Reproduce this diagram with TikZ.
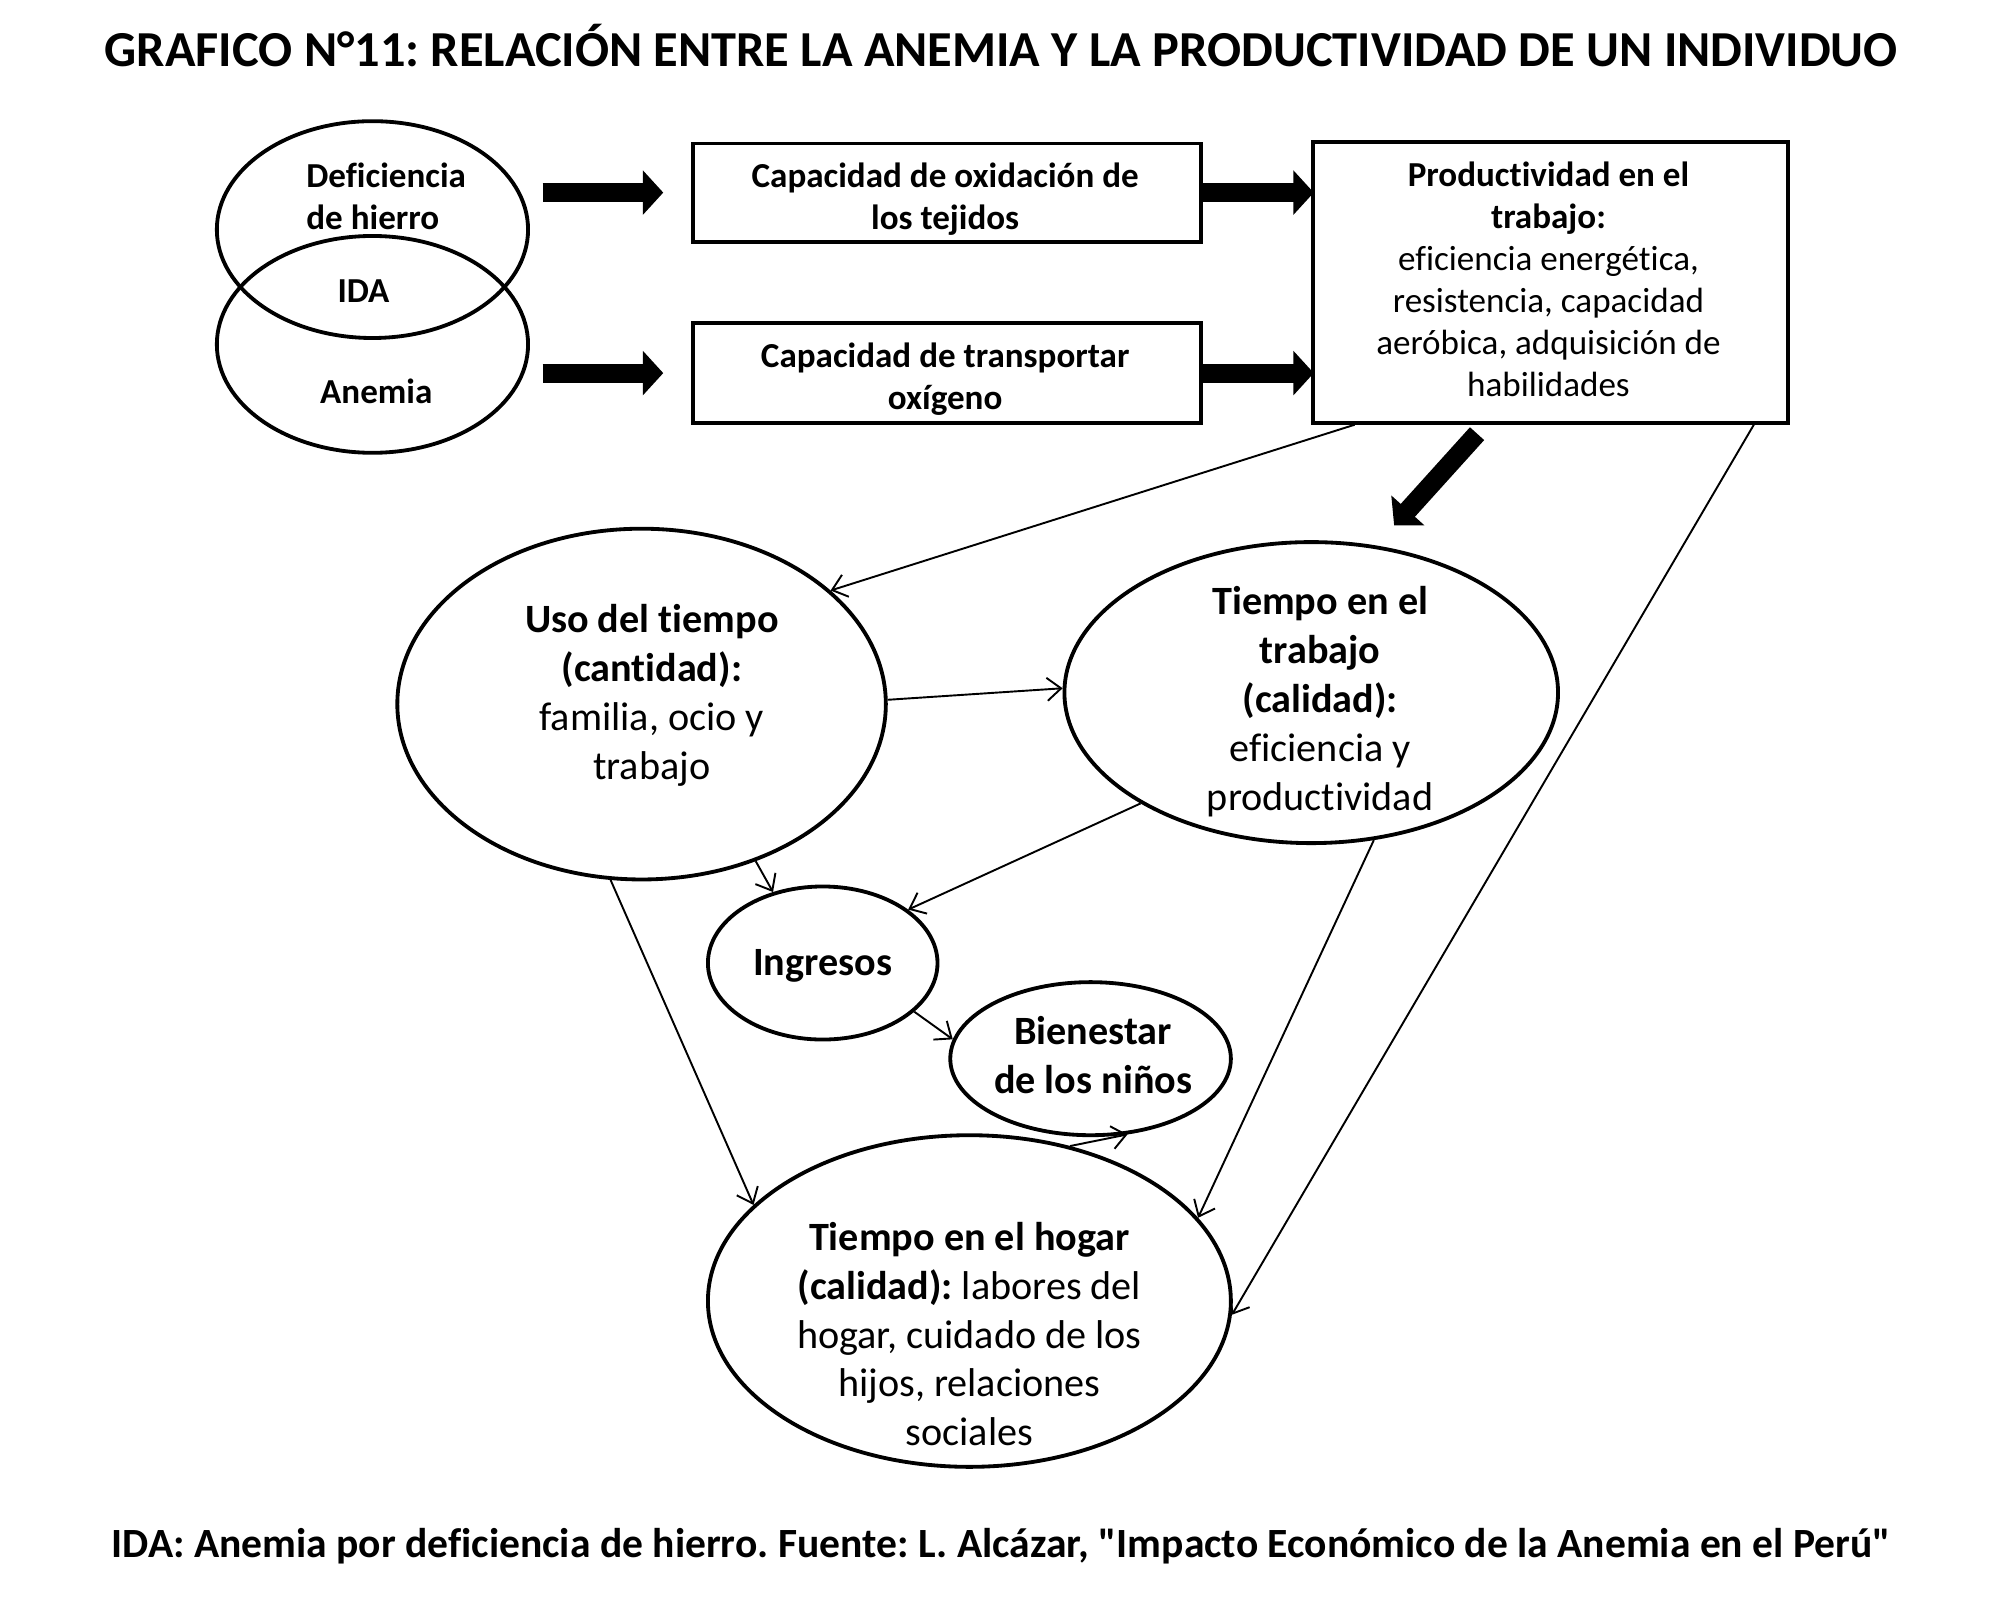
\documentclass[tikz,border=0pt]{standalone}
\usepackage{fontspec}
\setmainfont{Carlito}[Ligatures={TeXOff,NoCommon}]
\usetikzlibrary{arrows.meta,shapes.geometric,calc}
\frenchspacing
\begin{document}
\begin{tikzpicture}[x=1pt,y=-1pt,
  shapeline/.style={draw, line width=3pt},
  oval/.style={shapeline, ellipse, inner sep=0pt},
  boxnode/.style={shapeline, rectangle, inner sep=0pt, anchor=north west},
  bigtxt/.style={align=center, font=\fontsize{31.5}{38.3}\selectfont, inner sep=0pt},
  boxtxt/.style={align=center, font=\fontsize{27.5}{33}\selectfont, inner sep=0pt},
  boldbox/.style={boxtxt, font=\fontsize{27.5}{33}\selectfont\bfseries},
  fatarrow/.style={line width=15pt, -{Triangle[length=16pt,width=34pt]}},
  thinarrow/.style={line width=1.5pt, -{Straight Barb[length=11pt,width=18pt,line width=1.5pt]}}
]
\useasboundingbox[fill=white] (0,0) rectangle (1568,1257);

% title
\node[font=\fontsize{39.5}{44}\selectfont\bfseries, inner sep=0pt] (title) at (785,36)
  {GRAFICO N°11: RELACIÓN ENTRE LA ANEMIA Y LA PRODUCTIVIDAD DE UN INDIVIDUO};

% Venn diagram
\node[oval, minimum width=244pt, minimum height=170pt] (venA) at (292,180) {};
\node[oval, minimum width=244pt, minimum height=170pt] (venB) at (292,270) {};
\node[boldbox, align=left, anchor=west] (venAt) at (240,154) {Deficiencia\\de hierro};
\node[boldbox] (ida) at (285,228) {IDA};
\node[boldbox] (venBt) at (295,307) {Anemia};

% boxes
\node[boxnode, minimum width=398pt, minimum height=77pt] (boxA) at (542,111) {};
\node[boldbox] (boxAt) at (741,156) {Capacidad de oxidación de\\los tejidos};
\node[boxnode, minimum width=398pt, minimum height=78pt] (boxB) at (542,252) {};
\node[boldbox] (boxBt) at (741,297) {Capacidad de transportar\\oxígeno};

\node[boxnode, minimum width=372pt, minimum height=220pt] (big) at (1028,110) {};
\node[boxtxt] (bigt) at (1214,219) {\textbf{Productividad en el}\\\textbf{trabajo:}\\eficiencia energética,\\resistencia, capacidad\\aeróbica, adquisición de\\habilidades};

% ellipses lower part
\node[oval, minimum width=383pt, minimum height=275pt] (uso) at (503,552) {};
\node[bigtxt] (usot) at (511,545) {\textbf{Uso del tiempo}\\\textbf{(cantidad):}\\familia, ocio y\\trabajo};

\node[oval, minimum width=387pt, minimum height=236pt] (trab) at (1028,543) {};
\node[bigtxt] (trabt) at (1035,550) {\textbf{Tiempo en el}\\\textbf{trabajo}\\\textbf{(calidad):}\\eficiencia y\\productividad};

\node[oval, minimum width=180pt, minimum height=120pt] (ingr) at (645,755) {};
\node[bigtxt, font=\fontsize{31.5}{38}\selectfont\bfseries] (ingrt) at (645,757) {Ingresos};

\node[oval, minimum width=220pt, minimum height=120pt] (bien) at (855,830) {};
\node[bigtxt, font=\fontsize{31.5}{38}\selectfont\bfseries] (bient) at (857,827) {Bienestar\\de los niños};

\node[oval, minimum width=410pt, minimum height=260pt] (hogar) at (760,1020) {};
\node[bigtxt] (hogart) at (760,1046) {\textbf{Tiempo en el hogar}\\\textbf{(calidad):} labores del\\hogar, cuidado de los\\hijos, relaciones\\sociales};

% footer
\node[font=\fontsize{32.6}{38}\selectfont\bfseries, inner sep=0pt] (foot) at (785,1212)
  {IDA: Anemia por deficiencia de hierro. Fuente: L. Alcázar, "Impacto Económico de la Anemia en el Perú"};

% fat arrows
\draw[fatarrow, shorten <=10pt, shorten >=22pt] (venA.east |- boxA.west) -- (boxA.west);
\draw[fatarrow, shorten <=10pt, shorten >=22pt] (venB.east |- boxB.west) -- (boxB.west);
\draw[fatarrow, shorten >=-2pt] (boxA.east) -- (boxA.east -| big.west);
\draw[fatarrow, shorten >=-2pt] (boxB.east) -- (boxB.east -| big.west);
\coordinate (dgA) at (1158,340);
\coordinate (dgB) at (1093,412);
\draw[fatarrow] (dgA) -- (dgB);

% thin arrows
\draw[thinarrow] ($(big.south west)+(34,0)$) -- (uso.31);
\draw[thinarrow] ($(big.south east)+(-28,0)$) -- (hogar.-3);
\draw[thinarrow] (uso.1) -- (trab.179);
\draw[thinarrow] (uso.-54) -- (ingr.125);
\draw[thinarrow] (trab.213) -- (ingr.32);
\draw[thinarrow] (uso.-100) -- (hogar.156);
\draw[thinarrow] (trab.-67) -- (hogar.20);
\draw[thinarrow] (ingr.-28) -- (bien.172);
\draw[thinarrow] (hogar.57) -- (bien.-64);
\end{tikzpicture}
\end{document}
